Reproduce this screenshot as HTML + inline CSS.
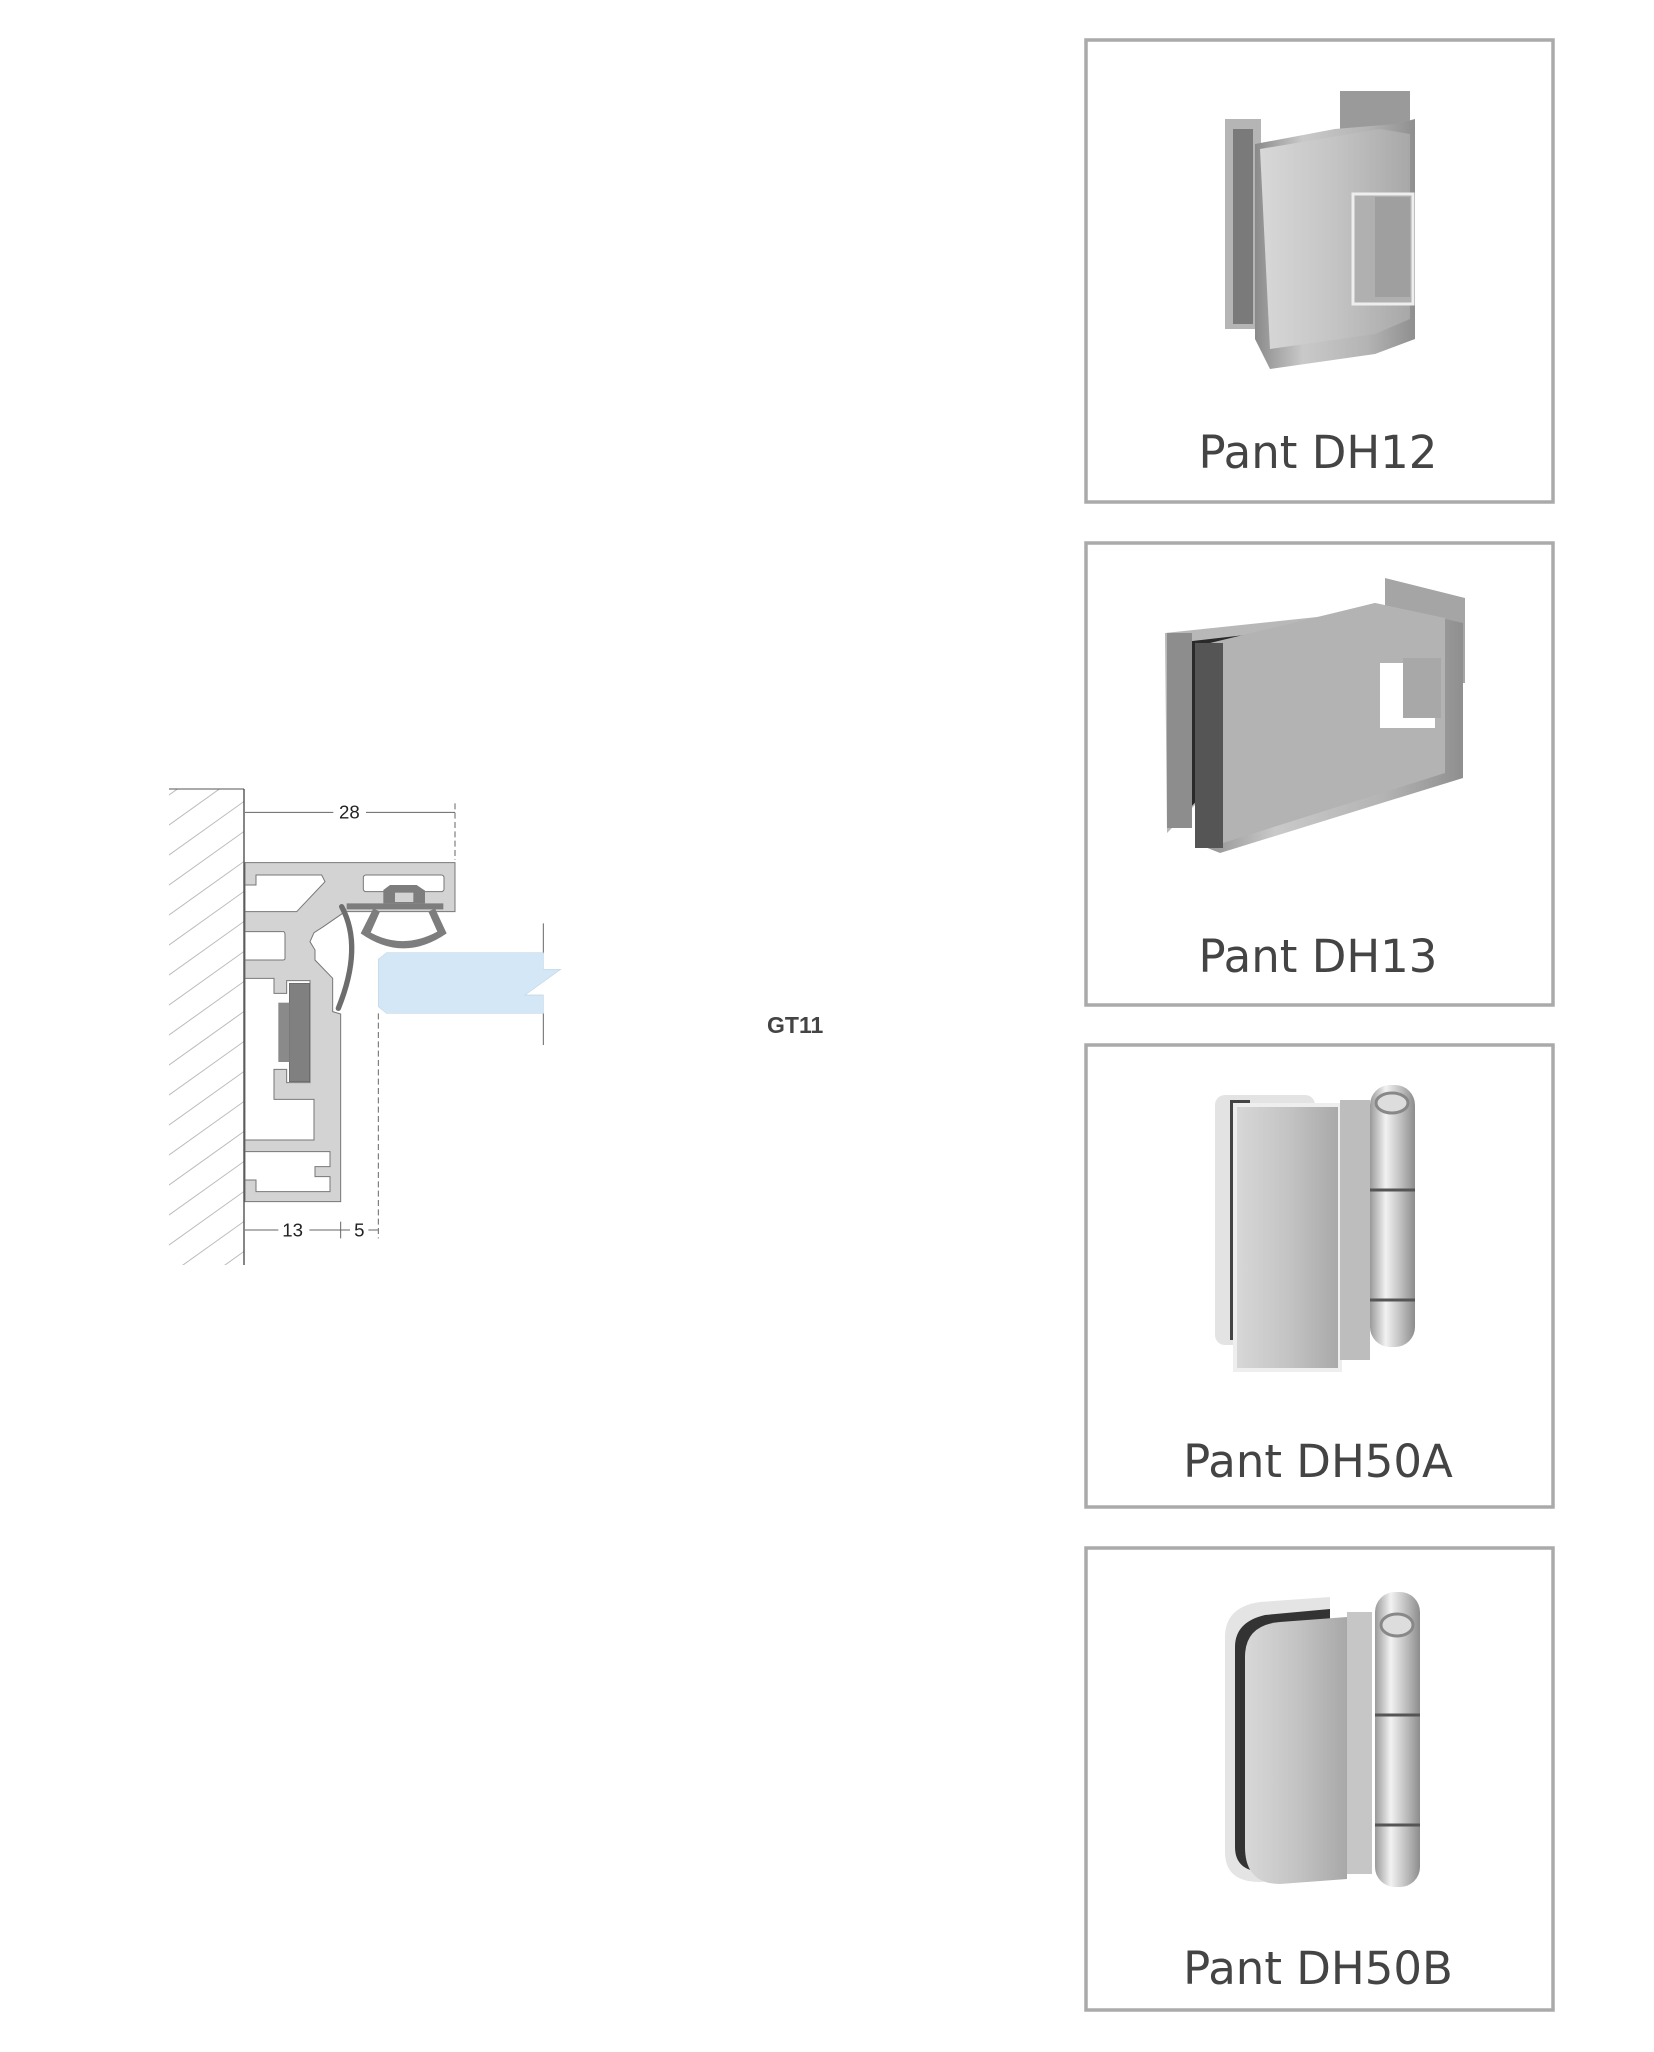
<!DOCTYPE html>
<html><head><meta charset="utf-8"><style>
html,body{margin:0;padding:0;background:#fff;}
svg{display:block;}
.lbl{font-family:"DejaVu Sans","Liberation Sans",sans-serif;font-size:45px;fill:#444;text-anchor:middle;}
</style></head><body>
<svg width="1654" height="2052" viewBox="0 0 1654 2052" xmlns="http://www.w3.org/2000/svg">
<defs>
<linearGradient id="met" x1="0" y1="0" x2="1" y2="0"><stop offset="0" stop-color="#8a8a8a"/><stop offset="0.3" stop-color="#c9c9c9"/><stop offset="0.7" stop-color="#b4b4b4"/><stop offset="1" stop-color="#8f8f8f"/></linearGradient>
<linearGradient id="met2" x1="0" y1="0" x2="1" y2="0"><stop offset="0" stop-color="#d8d8d8"/><stop offset="0.5" stop-color="#c4c4c4"/><stop offset="1" stop-color="#a8a8a8"/></linearGradient>
<linearGradient id="cyl" x1="0" y1="0" x2="1" y2="0"><stop offset="0" stop-color="#9a9a9a"/><stop offset="0.35" stop-color="#f2f2f2"/><stop offset="0.7" stop-color="#bdbdbd"/><stop offset="1" stop-color="#8c8c8c"/></linearGradient>
<clipPath id="wallclip"><rect x="169" y="789" width="75" height="476"/></clipPath>
</defs>

<g clip-path="url(#wallclip)" stroke="#bbb" stroke-width="1">
<path d="M120,830 L260,730 M120,860 L260,760 M120,890 L260,790 M120,920 L260,820 M120,950 L260,850 M120,980 L260,880 M120,1010 L260,910 M120,1040 L260,940 M120,1070 L260,970 M120,1100 L260,1000 M120,1130 L260,1030 M120,1160 L260,1060 M120,1190 L260,1090 M120,1220 L260,1120 M120,1250 L260,1150 M120,1280 L260,1180 M120,1310 L260,1210 M120,1340 L260,1240 M120,1370 L260,1270"/>
</g>
<line x1="169" y1="789" x2="244" y2="789" stroke="#555" stroke-width="1"/>
<line x1="244" y1="789" x2="244" y2="1265" stroke="#444" stroke-width="1.3"/>

<g transform="translate(150,760) scale(0.33333)">
<g stroke="#666" stroke-width="3" fill="none">
<path d="M285,157 H550 M648,157 H915"/>
<path d="M915,130 V300" stroke-dasharray="18,10"/>
<path d="M285,1410 H385 M478,1410 H600 M655,1410 H685 M572,1385 V1435"/>
<path d="M685,760 V1435" stroke-dasharray="18,10"/>
<path d="M1180,490 V580 M1180,760 V855"/>
</g>
<text x="598" y="176" font-family="Liberation Sans,sans-serif" font-size="56" fill="#222" text-anchor="middle">28</text>
<text x="428" y="1430" font-family="Liberation Sans,sans-serif" font-size="56" fill="#222" text-anchor="middle">13</text>
<text x="628" y="1430" font-family="Liberation Sans,sans-serif" font-size="56" fill="#222" text-anchor="middle">5</text>
<path d="M710,578 H1180 V628 H1232 L1125,705 H1180 V760 H710 L685,740 V598 Z" fill="#d4e7f6" stroke="#c5d6e4" stroke-width="2"/>
<path d="M285,308 H915 V455 H585 L520,500 L492,518 L480,545 L495,570 V600 L548,655 V755 L572,762 V1325 H285 Z" fill="#d3d3d3" stroke="#777" stroke-width="3"/>
<path d="M318,345 H515 L525,365 L440,455 H285 V375 H318 Z" fill="#fff" stroke="#777" stroke-width="3"/>
<path d="M285,515 H400 Q405,515 405,525 V595 Q405,600 398,600 H285 Z" fill="#fff" stroke="#777" stroke-width="3"/>
<path d="M285,655 H372 V700 H410 V662 H480 V968 H410 V928 H372 V1018 H492 V1140 H285 Z" fill="#fff" stroke="#777" stroke-width="3"/>
<path d="M285,1175 H540 V1220 H495 V1250 H540 V1295 H318 V1260 H285 Z" fill="#fff" stroke="#777" stroke-width="3"/>
<rect x="640" y="345" width="242" height="50" rx="8" fill="#fff" stroke="#777" stroke-width="3"/>
<path d="M590,430 H880 V448 H590 Z" fill="#7d7d7d"/>
<path d="M700,390 L720,375 H800 L825,392 V430 H700 Z" fill="#7d7d7d"/>
<rect x="735" y="398" width="55" height="28" fill="#d3d3d3"/>
<path d="M670,445 L632,520 Q760,610 890,520 L855,445 L835,455 L862,515 Q760,570 662,518 L690,455 Z" fill="#7d7d7d"/>
<path d="M575,440 Q640,560 565,745" fill="none" stroke="#6d6d6d" stroke-width="16" stroke-linecap="round"/>
<rect x="418" y="670" width="60" height="295" fill="#808080" stroke="#666" stroke-width="2"/>
<rect x="385" y="728" width="33" height="178" fill="#8a8a8a"/>
</g>

<text x="767" y="1033" font-family="Liberation Sans,sans-serif" font-size="23" font-weight="bold" fill="#444">GT11</text>

<g fill="none" stroke="#aaa" stroke-width="3.5">
<rect x="1086" y="40" width="467" height="462"/>
<rect x="1086" y="543" width="467" height="462"/>
<rect x="1086" y="1045" width="467" height="462"/>
<rect x="1086" y="1548" width="467" height="462"/>
</g>

<g transform="translate(1085,39)">
<rect x="140" y="80" width="36" height="210" fill="#b5b5b5"/>
<rect x="148" y="90" width="20" height="195" fill="#7a7a7a"/>
<rect x="255" y="52" width="70" height="40" fill="#9a9a9a"/>
<path d="M170,105 L250,90 L310,85 L330,80 L330,300 L290,315 L185,330 L170,300 Z" fill="url(#met)"/>
<path d="M175,110 L295,90 L325,95 L325,280 L290,295 L185,310 Z" fill="url(#met2)"/>
<rect x="268" y="155" width="60" height="110" fill="#b0b0b0" stroke="#eee" stroke-width="3"/>
<rect x="290" y="158" width="35" height="100" fill="#9f9f9f"/>
</g>
<text class="lbl" x="1318" y="468">Pant DH12</text>

<g transform="translate(1085,543)">
<path d="M80,90 L270,70 L272,100 L82,290 Z" fill="#b8b8b8"/>
<path d="M90,100 L265,80 L260,105 L100,270 Z" fill="#2a2a2a"/>
<rect x="82" y="90" width="25" height="195" fill="#8d8d8d"/>
<path d="M300,35 L380,55 L380,140 L300,140 Z" fill="#a5a5a5"/>
<path d="M115,105 L290,60 L378,80 L378,235 L135,310 L110,300 Z" fill="url(#met)"/>
<path d="M125,100 L290,60 L360,75 L360,230 L138,300 Z" fill="#b3b3b3"/>
<rect x="110" y="100" width="28" height="205" fill="#555"/>
<rect x="295" y="120" width="55" height="65" fill="#fff"/>
<rect x="318" y="115" width="38" height="60" fill="#a8a8a8"/>
</g>
<text class="lbl" x="1318" y="972">Pant DH13</text>

<g transform="translate(1085,1045)">
<rect x="130" y="50" width="100" height="250" rx="10" fill="#e3e3e3"/>
<rect x="145" y="55" width="20" height="240" fill="#444"/>
<rect x="150" y="60" width="105" height="265" fill="url(#met2)" stroke="#eee" stroke-width="4"/>
<rect x="255" y="55" width="30" height="260" fill="#bdbdbd"/>
<rect x="285" y="40" width="45" height="262" rx="20" fill="url(#cyl)"/>
<ellipse cx="307" cy="58" rx="16" ry="10" fill="#ddd" stroke="#888" stroke-width="3"/>
<line x1="285" y1="145" x2="330" y2="145" stroke="#555" stroke-width="3"/>
<line x1="285" y1="255" x2="330" y2="255" stroke="#555" stroke-width="3"/>
</g>
<text class="lbl" x="1318" y="1477">Pant DH50A</text>

<g transform="translate(1085,1547)">
<path d="M140,90 Q140,60 175,55 L245,50 L245,330 L175,335 Q140,335 140,305 Z" fill="#e4e4e4"/>
<path d="M150,100 Q150,75 180,68 L245,62 L245,320 L180,325 Q150,325 150,300 Z" fill="#333"/>
<path d="M160,110 Q160,78 195,75 L262,70 L262,332 L195,337 Q160,337 160,300 Z" fill="url(#met2)"/>
<rect x="262" y="65" width="25" height="262" fill="#c6c6c6"/>
<rect x="290" y="45" width="45" height="295" rx="20" fill="url(#cyl)"/>
<ellipse cx="312" cy="78" rx="16" ry="11" fill="#ddd" stroke="#888" stroke-width="3"/>
<line x1="290" y1="168" x2="335" y2="168" stroke="#555" stroke-width="3"/>
<line x1="290" y1="278" x2="335" y2="278" stroke="#555" stroke-width="3"/>
</g>
<text class="lbl" x="1318" y="1984">Pant DH50B</text>
</svg>
</body></html>
